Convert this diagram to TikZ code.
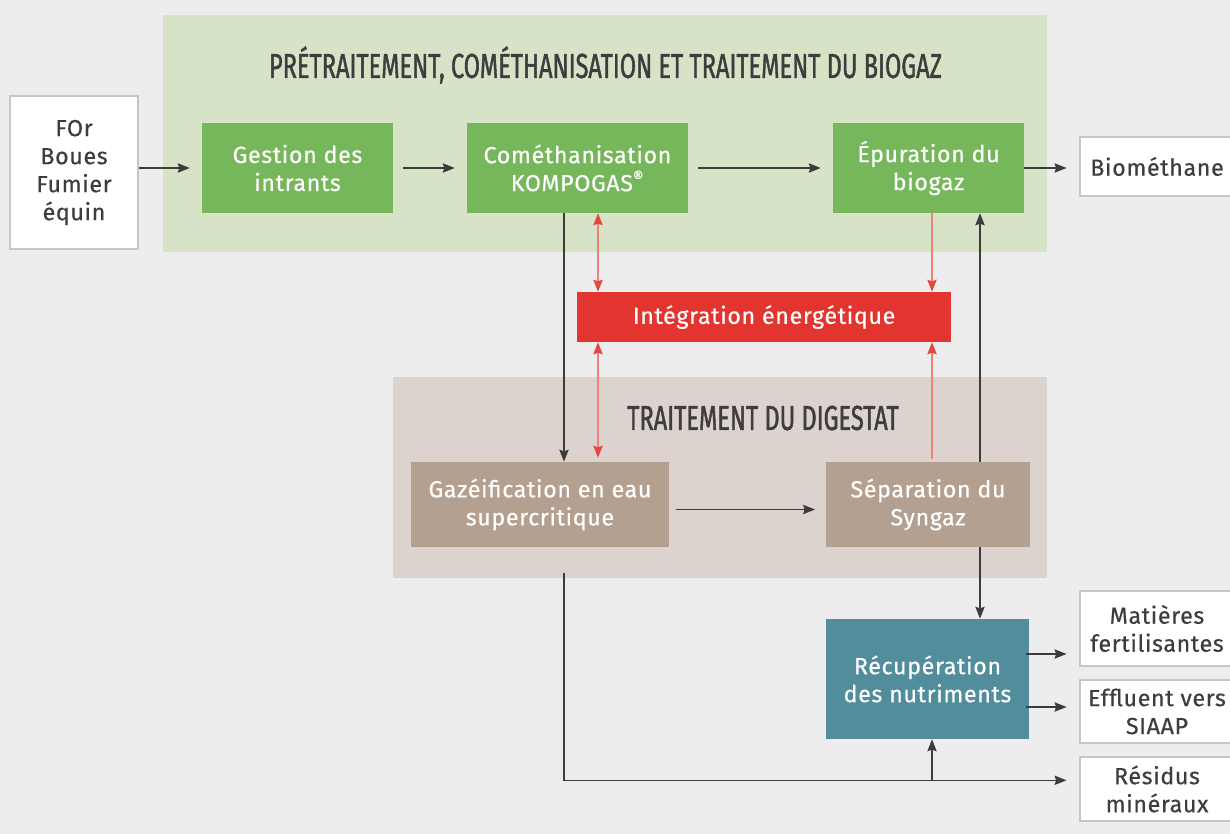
\documentclass[tikz,border=0pt]{standalone}
\usepackage{fontspec}
\setmainfont{Fira Sans}[LetterSpace=2.5, FakeBold=0.35]
\newfontfamily\headfont{Fira Sans}[FakeStretch=0.68, FakeBold=1.2]
\usetikzlibrary{arrows.meta,calc}

\definecolor{pagebg}{HTML}{EDEDED}
\definecolor{panelgreen}{HTML}{D6E3C6}
\definecolor{panelbrown}{HTML}{DCD3CE}
\definecolor{boxgreen}{HTML}{77B75B}
\definecolor{boxred}{HTML}{E3352F}
\definecolor{boxbrown}{HTML}{B4A091}
\definecolor{boxteal}{HTML}{528D9B}
\definecolor{textdark}{HTML}{3D3D3D}
\definecolor{bordergray}{HTML}{C6C6C6}
\definecolor{linedark}{HTML}{3C3C3C}
\definecolor{linered}{HTML}{EC8278}
\definecolor{tipred}{HTML}{E5473D}

\tikzset{
  box/.style={rectangle, inner sep=0pt, align=center, text=white,
    font=\fontsize{17.5}{21}\selectfont},
  greenbox/.style={box, fill=boxgreen},
  brownbox/.style={box, fill=boxbrown},
  tealbox/.style={box, fill=boxteal},
  redbox/.style={box, fill=boxred},
  outbox/.style={box, fill=white, draw=bordergray, line width=2.2pt, text=textdark},
  headtitle/.style={inner sep=0pt, text=textdark, font=\headfont\fontsize{26}{30}\selectfont},
  arr/.style={draw=linedark, line width=1pt,
    -{Stealth[length=9pt, width=7pt, inset=1.2pt]}},
  redarr/.style={draw=linered, line width=1pt,
    -{Stealth[length=9pt, width=7pt, inset=1.2pt, color=tipred]}},
  redboth/.style={draw=linered, line width=1pt,
    {Stealth[length=9pt, width=7pt, inset=1.2pt, color=tipred]}-{Stealth[length=9pt, width=7pt, inset=1.2pt, color=tipred]}},
}

\begin{document}
\begin{tikzpicture}[x=0.75pt, y=-0.75pt]
\useasboundingbox (0,0) rectangle (1230,834);
\fill[pagebg] (0,0) rectangle (1230,834);

% panels
\fill[panelgreen] (163,15) rectangle (1047,252);
\fill[panelbrown] (393,377) rectangle (1047,578);
\node[headtitle] (t1) at (605.5,65) {PRÉTRAITEMENT, COMÉTHANISATION ET TRAITEMENT DU BIOGAZ};
\node[headtitle] (t2) at (763,418) {TRAITEMENT DU DIGESTAT};

% process boxes
\node[outbox, minimum width=96pt, minimum height=114.75pt] (in) at (74,172.5) {FOr\\Boues\\Fumier\\équin};
\node[greenbox, minimum width=143.25pt, minimum height=67.5pt] (gest) at (297.5,168) {Gestion des\\intrants};
\node[greenbox, minimum width=165.75pt, minimum height=67.5pt] (comet) at (577.5,168) {Cométhanisation\\KOMPOGAS\textsuperscript{®}};
\node[greenbox, minimum width=143.25pt, minimum height=67.5pt] (epur) at (928.5,168) {Épuration du\\biogaz};
\node[outbox, minimum width=115.5pt, minimum height=44.25pt] (bio) at (1157,166.5) {Biométhane};
\node[redbox, minimum width=280.5pt, minimum height=37.5pt] (integ) at (764,317) {Intégration énergétique};
\node[brownbox, minimum width=193.5pt, minimum height=63.75pt] (gaz) at (540,504.5) {Gazéification en eau\\supercritique};
\node[brownbox, minimum width=153pt, minimum height=63.75pt] (sep) at (928,504.5) {Séparation du\\Syngaz};
\node[tealbox, minimum width=152.25pt, minimum height=90pt] (recup) at (927.5,679) {Récupération\\des nutriments};
\node[outbox, minimum width=115.5pt, minimum height=56.25pt] (mat) at (1157,628.5) {Matières\\fertilisantes};
\node[outbox, minimum width=115.5pt, minimum height=47.25pt] (eff) at (1157,711.5) {Effluent vers\\SIAAP};
\node[outbox, minimum width=115.5pt, minimum height=48pt] (res) at (1157,789) {Résidus\\minéraux};

% main line
\draw[arr, shorten >=9pt] (in.east |- gest.west) -- (gest.west);
\draw[arr, shorten <=7.5pt, shorten >=9pt] (gest.east) -- (comet.west);
\draw[arr, shorten <=7.5pt, shorten >=9pt] (comet.east) -- (epur.west);
\draw[arr, shorten >=9pt] (epur.east) -- (bio.west |- epur.east);

% digestate to gasification
\coordinate (cg) at ($(comet.south)+(-13.5,0)$);
\draw[arr] (cg) -- (cg |- gaz.north);

% energy integration links
\coordinate (cr) at ($(comet.south)+(20.5,0)$);
\draw[redboth] (cr) -- (cr |- integ.north);
\draw[redboth, shorten >=3pt] (cr |- integ.south) -- (cr |- gaz.north);
\coordinate (er) at ($(epur.south)+(3.5,0)$);
\draw[redarr] (er) -- (er |- integ.north);
\coordinate (sr) at ($(er |- sep.north)+(0,-3)$);
\draw[redarr] (sr) -- (sr |- integ.south);

% syngaz separation
\draw[arr, shorten <=5pt, shorten >=8pt] ($(gaz.east)+(0,5)$) -- ($(sep.west)+(0,5)$);
\coordinate (sb) at ($(sep.north)+(52,0)$);
\draw[arr] (sb) -- (sb |- epur.south);
\draw[arr] (sb |- sep.south) -- (sb |- recup.north);

% nutrient recovery outputs
\coordinate (ra) at ($(recup.east)+(-3,-25)$);
\draw[arr, shorten >=9pt] (ra) -- (ra -| mat.west);
\coordinate (rc) at ($(recup.east)+(-3,28)$);
\draw[arr, shorten >=9pt] (rc) -- (rc -| eff.west);

% mineral residues
\coordinate (gb) at ($(gaz.south)+(24,26)$);
\coordinate (bend) at ($(gb)+(0,207)$);
\draw[arr, shorten >=9pt] (gb) -- (bend) -- (bend -| res.west);
\coordinate (rb) at ($(recup.south)+(4.5,0)$);
\draw[arr] (rb |- bend) -- (rb);
\end{tikzpicture}
\end{document}
